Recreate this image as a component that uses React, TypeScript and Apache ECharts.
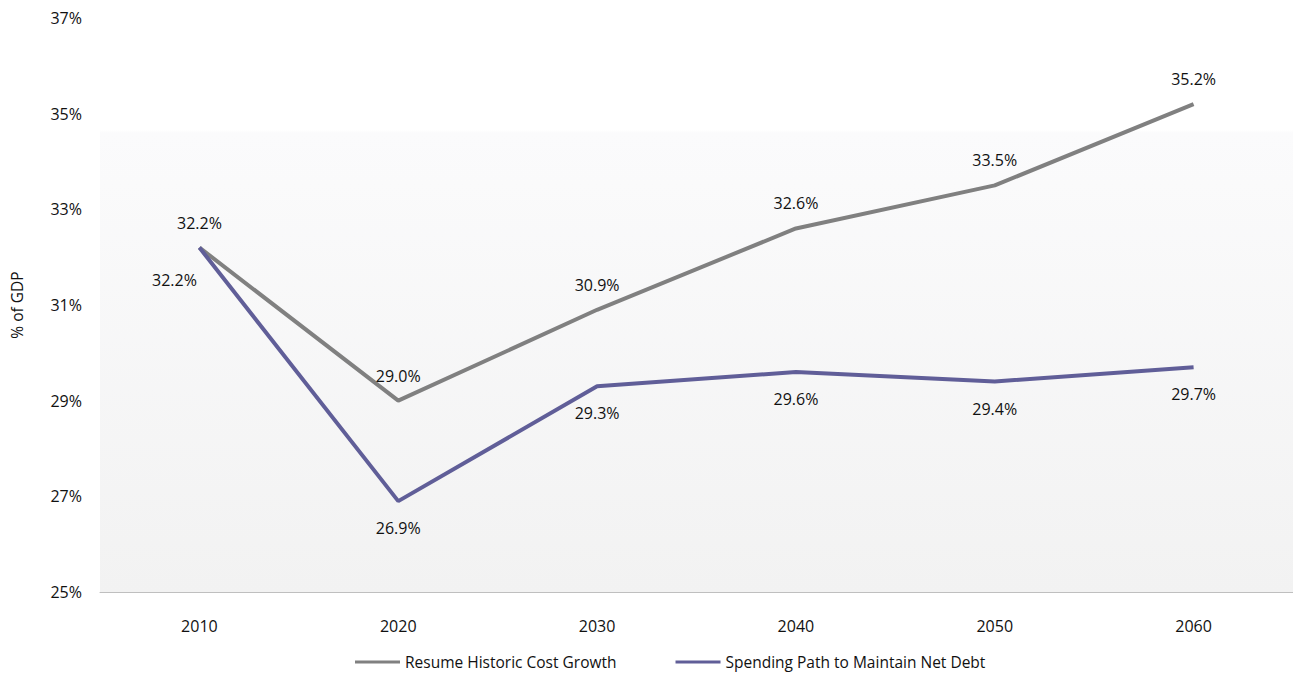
import React, { useEffect, useRef } from "react";
import * as echarts from "echarts";

const years = ["2010", "2020", "2030", "2040", "2050", "2060"];
const historicGrowth = [32.2, 29.0, 30.9, 32.6, 33.5, 35.2];
const maintainNetDebt = [32.2, 26.9, 29.3, 29.6, 29.4, 29.7];
const seriesNames = ["Resume Historic Cost Growth", "Spending Path to Maintain Net Debt"];
const yAxisName = "% of GDP";

const FONT = "'Open Sans', 'Noto Sans', sans-serif";
const GRAY = "#808080";
const PURPLE = "#605e98";

export default function App() {
  const ref = useRef<HTMLDivElement>(null);
  useEffect(() => {
    if (!ref.current) return;
    const chart = echarts.init(ref.current, undefined, { renderer: "svg" });
    const fmt = (p: any) => Number(p.value).toFixed(1) + "%";
    const labelBase = {
      show: true,
      formatter: fmt,
      fontFamily: FONT,
      fontSize: 16,
      color: "#111",
    };
    chart.setOption({
      animation: false,
      backgroundColor: "#ffffff",
      textStyle: { fontFamily: FONT },
      grid: {
        left: 100,
        right: 0,
        top: 18,
        bottom: 81,
        show: true,
        borderWidth: 0,
        outerBoundsMode: "none",
        containLabel: false,
        backgroundColor: new echarts.graphic.LinearGradient(0, 0, 0, 1, [
          { offset: 0, color: "#ffffff" },
          { offset: 0.195, color: "#ffffff" },
          { offset: 0.2, color: "#fbfbfc" },
          { offset: 1, color: "#f2f2f2" },
        ]),
      },
      legend: {
        top: 648,
        left: 350,
        itemWidth: 45,
        itemHeight: 3,
        itemGap: 59,
        icon: "rect",
        textStyle: { fontFamily: FONT, fontSize: 15.5, color: "#111", lineHeight: 18 },
        data: [
          { name: seriesNames[0], itemStyle: { color: GRAY } },
          { name: seriesNames[1], itemStyle: { color: PURPLE } },
        ],
      },
      xAxis: {
        type: "category",
        data: years,
        boundaryGap: true,
        axisLine: { show: true, lineStyle: { color: "#bfbfbf", width: 1 } },
        axisTick: { show: false },
        axisLabel: { fontFamily: FONT, fontSize: 16, color: "#111", margin: 26 },
        splitLine: { show: false },
      },
      yAxis: {
        type: "value",
        min: 25,
        max: 37,
        interval: 2,
        name: yAxisName,
        nameLocation: "middle",
        nameGap: 75,
        nameTextStyle: { fontFamily: FONT, fontSize: 15.5, color: "#111" },
        axisLine: { show: false },
        axisTick: { show: false },
        splitLine: { show: false },
        axisLabel: {
          formatter: "{value}%",
          fontFamily: FONT,
          fontSize: 16,
          color: "#111",
          margin: 18,
        },
      },
      series: [
        {
          name: seriesNames[0],
          type: "line",
          data: historicGrowth,
          symbol: "circle",
          symbolSize: 0,
          showSymbol: true,
          lineStyle: { color: GRAY, width: 4 },
          itemStyle: { color: GRAY },
          label: { ...labelBase, position: "top", distance: 17 },
          z: 2,
        },
        {
          name: seriesNames[1],
          type: "line",
          data: maintainNetDebt.map((v, i) =>
            i === 0
              ? { value: v, label: { position: "bottom", distance: 24, offset: [-25, 0] } }
              : v
          ),
          symbol: "circle",
          symbolSize: 0,
          showSymbol: true,
          lineStyle: { color: PURPLE, width: 4 },
          itemStyle: { color: PURPLE },
          label: { ...labelBase, position: "bottom", distance: 19 },
          z: 3,
        },
      ],
    });
    return () => chart.dispose();
  }, []);
  return (
    <div
      ref={ref}
      style={{ position: "fixed", left: 0, top: 0, width: 1293, height: 673 }}
    />
  );
}
